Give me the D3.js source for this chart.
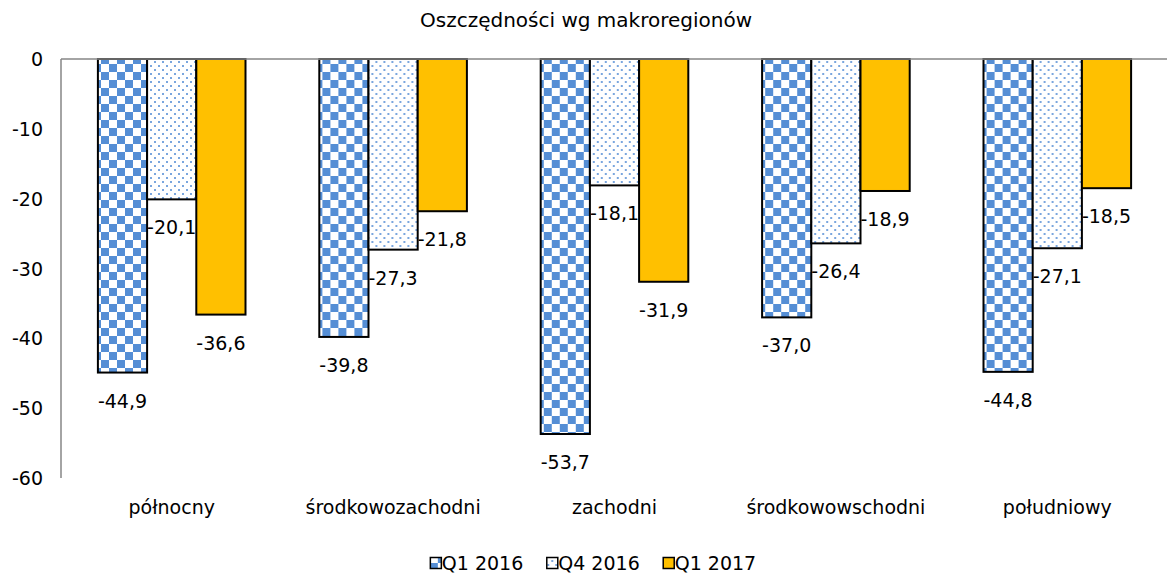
<!DOCTYPE html>
<html>
<head>
<meta charset="utf-8">
<script src="https://cdn.jsdelivr.net/npm/d3@7"></script>
<style>
  body { margin: 0; background: #fff; }
  text { font-family: "DejaVu Sans", Verdana, sans-serif; fill: #000; }
</style>
</head>
<body>
<div id="chart"></div>
<script>
// data
const categories = ["północny", "środkowozachodni", "zachodni", "środkowowschodni", "południowy"]
const seriesNames = ["Q1 2016", "Q4 2016", "Q1 2017"]
const q1_2016 = [-44.9, -39.8, -53.7, -37.0, -44.8]
const q4_2016 = [-20.1, -27.3, -18.1, -26.4, -27.1]
const q1_2017 = [-36.6, -21.8, -31.9, -18.9, -18.5]
const yTicks = [0, -10, -20, -30, -40, -50, -60]

const width = 1167
const height = 578
const margin = { top: 59, right: -1, bottom: 100, left: 61 }

const rows = categories.map((c, i) => ({
  cat: c,
  values: [q1_2016[i], q4_2016[i], q1_2017[i]]
}))

// scales
const x = d3.scaleBand()
  .domain(categories)
  .range([margin.left, width - margin.right])
  .paddingInner(0)
  .paddingOuter(0)

const inner = d3.scaleBand()
  .domain(seriesNames)
  .range([0, x.bandwidth()])
  .paddingOuter(0.75)
  .paddingInner(0)

const y = d3.scaleLinear()
  .domain([0, -60])
  .range([margin.top, 478])

const locale = d3.formatLocale({ decimal: ",", thousands: " ", grouping: [3], currency: ["", ""], minus: "-" })
const fmt = locale.format(".1f")
const fmtTick = locale.format("d")

const svg = d3.select("#chart")
  .append("svg")
  .attr("width", width)
  .attr("height", height)

// patterns
const defs = svg.append("defs")
const checker = defs.append("pattern")
  .attr("id", "checker")
  .attr("patternUnits", "userSpaceOnUse")
  .attr("width", 16).attr("height", 16)
checker.append("rect").attr("width", 16).attr("height", 16).attr("fill", "#fff")
checker.append("rect").attr("width", 8).attr("height", 8).attr("fill", "#558ed5")
checker.append("rect").attr("x", 8).attr("y", 8).attr("width", 8).attr("height", 8).attr("fill", "#558ed5")

const dots = defs.append("pattern")
  .attr("id", "dots")
  .attr("patternUnits", "userSpaceOnUse")
  .attr("width", 8).attr("height", 8)
dots.append("rect").attr("width", 8).attr("height", 8).attr("fill", "#fff")
dots.append("rect").attr("x", 1).attr("y", 1).attr("width", 2).attr("height", 2).attr("fill", "#7aa6de")
dots.append("rect").attr("x", 5).attr("y", 5).attr("width", 2).attr("height", 2).attr("fill", "#7aa6de")

const fills = ["url(#checker)", "url(#dots)", "#ffc000"]

// title
svg.append("text")
  .attr("x", 586)
  .attr("y", 20)
  .attr("text-anchor", "middle")
  .attr("dominant-baseline", "central")
  .style("font-size", "20px")
  .text("Oszczędności wg makroregionów")

// y axis labels
svg.selectAll("text.ytick")
  .data(yTicks)
  .join("text")
  .attr("class", "ytick")
  .attr("x", 43)
  .attr("y", d => y(d))
  .attr("text-anchor", "end")
  .attr("dominant-baseline", "central")
  .style("font-size", "19px")
  .text(d => fmtTick(d))

// bars
const groups = svg.selectAll("g.cat")
  .data(rows)
  .join("g")
  .attr("class", "cat")
  .attr("transform", d => `translate(${x(d.cat)},0)`)

groups.selectAll("rect")
  .data(d => d.values.map((v, j) => ({ s: seriesNames[j], v, j })))
  .join("rect")
  .attr("x", d => inner(d.s))
  .attr("y", y(0))
  .attr("width", inner.bandwidth())
  .attr("height", d => y(d.v) - y(0))
  .attr("fill", d => fills[d.j])
  .attr("stroke", "#000")
  .attr("stroke-width", 2)

groups.selectAll("text.val")
  .data(d => d.values.map((v, j) => ({ s: seriesNames[j], v, j })))
  .join("text")
  .attr("class", "val")
  .attr("x", d => inner(d.s) + inner.bandwidth() / 2)
  .attr("y", d => y(d.v) + 28)
  .attr("text-anchor", "middle")
  .attr("dominant-baseline", "central")
  .style("font-size", "19px")
  .text(d => fmt(d.v))

// axis lines
svg.append("line")
  .attr("x1", margin.left).attr("x2", margin.left)
  .attr("y1", y(0)).attr("y2", y(-60))
  .attr("stroke", "#868686").attr("stroke-width", 1.5)
svg.append("line")
  .attr("x1", margin.left).attr("x2", width)
  .attr("y1", y(0)).attr("y2", y(0))
  .attr("stroke", "#868686").attr("stroke-width", 1.5)

// category labels
svg.selectAll("text.cat")
  .data(categories)
  .join("text")
  .attr("class", "cat")
  .attr("x", d => x(d) + x.bandwidth() / 2)
  .attr("y", 507)
  .attr("text-anchor", "middle")
  .attr("dominant-baseline", "central")
  .style("font-size", "19px")
  .text(d => d)

// legend
const legend = svg.append("g")
let lx = 0
seriesNames.forEach((s, i) => {
  const g = legend.append("g")
  g.append("rect")
    .attr("x", 0.5).attr("y", -5.5)
    .attr("width", 11).attr("height", 11)
    .attr("fill", fills[i])
    .attr("stroke", "#000").attr("stroke-width", 1.5)
  const t = g.append("text")
    .attr("x", 12).attr("y", 0)
    .attr("dominant-baseline", "central")
    .style("font-size", "19px")
    .text(s)
  const w = 12 + t.node().getComputedTextLength()
  g.attr("transform", `translate(${lx},0)`)
  lx += w + 23
})
const legendW = lx - 23
legend.attr("transform", `translate(${593 - legendW / 2},563)`)
</script>
</body>
</html>
